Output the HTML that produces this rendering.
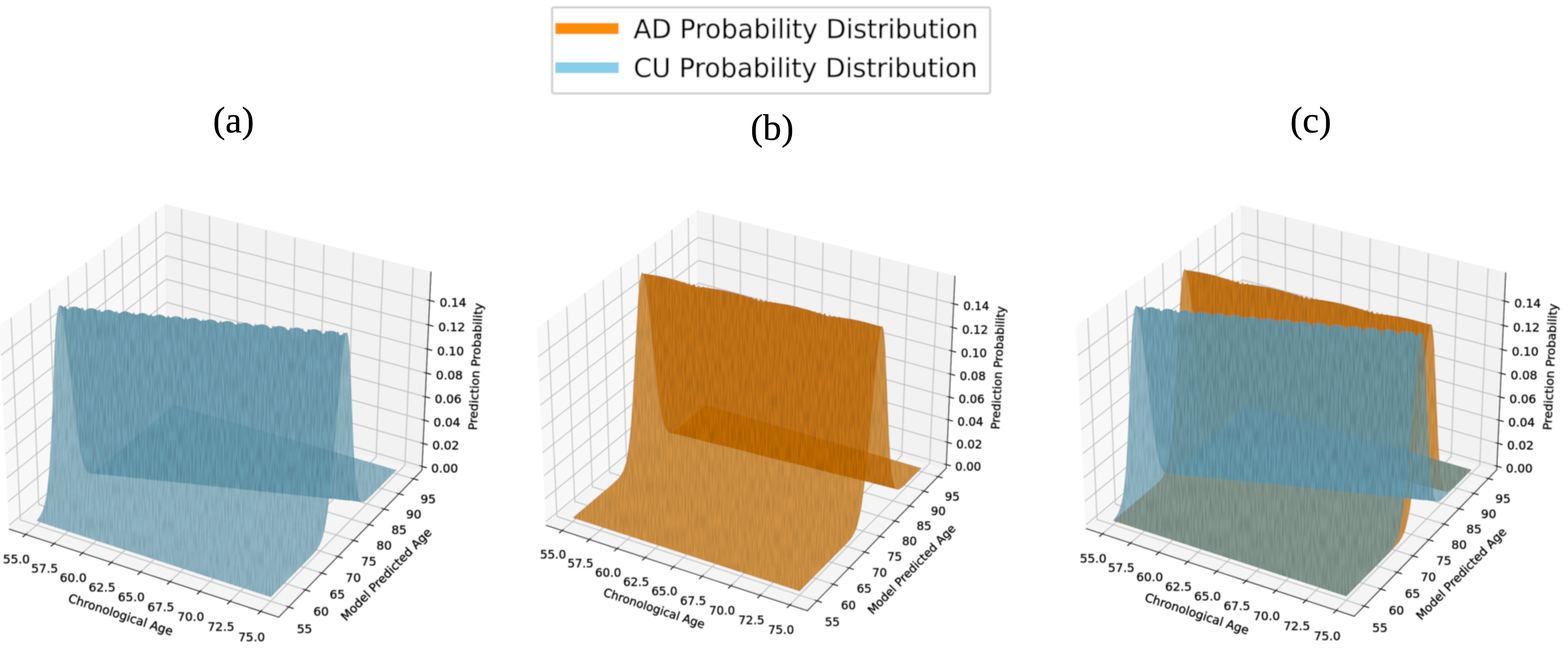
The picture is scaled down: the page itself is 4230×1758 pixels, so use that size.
<!DOCTYPE html>
<html lang="en"><head><meta charset="utf-8"><title>AD / CU probability distributions</title>
<style>html,body{margin:0;padding:0;background:#fff}body{width:4230px;height:1758px;overflow:hidden}svg{display:block}.t{font-family:'DejaVu Sans','Liberation Sans',sans-serif;font-size:9.75px;fill:#000;stroke:#000;stroke-width:0.2}.g{fill:none;stroke:#b4b4b4;stroke-width:.8;stroke-opacity:.85}.x{fill:none;stroke:#000;stroke-width:.8;stroke-linecap:square}.lg{font-family:'DejaVu Sans','Liberation Sans',sans-serif;font-size:70.4px;fill:#000;stroke:#000;stroke-width:0.66}.lb{font-family:'Liberation Serif','DejaVu Serif',serif;font-size:100px;fill:#000;stroke:#000;stroke-width:.6px;text-anchor:middle}</style></head><body>
<svg width="4230" height="1758" viewBox="0 0 4230 1758">
<rect width="4230" height="1758" fill="#fff"/>
<defs><filter id="bl" x="-3%" y="-3%" width="106%" height="106%"><feGaussianBlur stdDeviation="1.5"/></filter></defs>
<defs>
<path id="cu1" d="M226.1 346.2L235.3 349.4 251.9 354.9 415.8 407.9 446.2 377.2 451.5 371.5 453.7 368.7 455.8 364.9 456.9 362.1 458 358.7 459.1 354.1 460.3 348.2 461.5 340.7 464.1 319.9 466.8 291.1 472.7 223.7 474.1 210.3 475.4 200.4 476.6 195.1 477 194.4 477.7 193.9 475.7 194.3 474.6 193.7 474.1 195.1 473.2 195.8 472.4 196 471.9 195.9 471.1 195.2 470.5 193.2 469.7 193.7 469.2 193.8 467.4 192.9 465.5 192.5 463.5 192.5 461.6 193 461.2 192.9 460.3 192.3 459.5 194.6 458.6 195 457.7 194.6 455.1 192.5 453.2 191.6 451.2 191.1 449.2 191.3 447.3 191.8 446.9 191.6 446 190.9 445.2 193.1 444.4 193.5 443.5 193.1 440.8 191 439 190.2 437 189.8 434.9 190 433.1 190.5 432.7 190.4 431.8 189.5 431 191.5 430.1 192 429.2 191.6 426.6 189.6 424.7 188.8 422.7 188.5 420.7 188.7 419 189.3 418.5 189.1 417.6 188.1 416.8 190.1 415.9 190.5 415.1 190.1 412.4 188.2 410.5 187.4 408.5 187.2 406.5 187.4 404.8 188 404.3 187.9 403.4 186.7 402.6 188.6 401.8 189 400.9 188.6 398.3 186.8 396.2 186 394.2 185.9 392.4 186.2 390.9 186.8 390.1 186.5 389.2 185.4 388.5 187.1 387.6 187.5 386.8 187.2 384.2 185.4 382.1 184.7 380.1 184.6 378.3 185 376.8 185.6 376 185.3 375.1 184 374.4 185.6 373.5 186 372.7 185.7 370.1 184 368 183.3 366 183.3 364.2 183.7 362.8 184.3 361.9 184.1 361 182.7 360.3 184.2 359.5 184.5 358.6 184.3 356 182.6 353.9 182 352 182 350.2 182.5 348.8 183.1 347.9 182.9 347 181.3 346.2 182.8 345.4 183.1 344.6 182.8 343.8 182.2 342 181.2 340 180.7 337.9 180.7 336.2 181.3 334.8 181.9 334.3 181.9 333.6 181.3 333 180 332.2 181.3 331.4 181.6 331 181.6 328 179.8 325.9 179.3 324 179.5 320.9 180.7 320.4 180.7 319.6 180.1 319 178.7 318.2 180 317.2 180.2 314 178.4 311.9 178 310 178.2 307 179.6 306.5 179.5 305.7 178.9 305 177.4 304.2 178.6 303.3 178.8 301.9 177.9 300.1 177.1 298.2 176.7 295.1 177.2 293.6 178.2 292.6 178.3 291.8 177.7 291.1 176.1 290.3 177.2 289.4 177.3 288 176.5 286.2 175.7 284.3 175.4 281.1 175.8 280.8 176.3 279.8 177 279 177.2 278.2 176.8 277.2 174.8 276.4 175.8 275.5 175.9 274.1 175.1 272.3 174.4 270.4 174.2 268.6 174.5 267.2 174.4 266.6 175.4 265.6 176 265.2 176.1 264.4 175.7 263.4 173.5 262.5 174.4 261.7 174.5 260.2 173.7 258.5 173 256.6 172.9 254.9 173.2 253.4 173 252.8 174.2 251.8 174.9 251.4 174.9 250.6 174.5 249.6 172.3 248.6 173.1 248.1 173.2 246.4 172.3 244.6 171.7 243.4 174.6 242.4 181.9 241.5 193.2 240.8 207.6 238.3 274.2 236.8 301.1 235.9 311.5 235 319.9 234.1 326.6 233 331.8 231.9 335.8 230.8 338.9 229.6 341.4 228.4 343.3Z"/>
<path id="cu2" d="M244.6 171.7L245.9 173.8 247.4 180.1 249 190.2 250.6 203.2 257.5 261.6 260.6 283.6 262 291.6 263.4 297.6 264.7 301.9 266 304.9 267.2 306.5 268.3 307.4 269.5 307.8 271 307.7 273.3 308.1 278 308.7 281.4 308.9 282.6 309.1 284.1 309 286.4 309.5 291.1 310.1 294.5 310.2 296 310.5 297.2 310.4 302.4 311.3 307.7 311.6 309.1 311.9 310.3 311.8 315.6 312.6 320.9 313 322.3 313.3 323.5 313.2 328.8 314 334.1 314.4 335.3 314.7 336.7 314.6 342 315.4 347.3 315.7 348.5 316.1 349.9 316 355.3 316.8 360.6 317.1 361.8 317.5 363.1 317.5 368.5 318.2 373.9 318.5 375.3 318.9 376.4 318.9 381.9 319.6 387.3 319.9 388.7 320.3 389.7 320.3 395.2 321 400.6 321.3 402.1 321.7 403.1 321.7 408.6 322.4 414 322.7 415.5 323.1 416.5 323.1 420.2 323.6 423.9 324 427.4 324 428.9 324.5 433.6 325.1 437.4 325.4 440.9 325.4 442.3 326 451.7 326.9 453.8 326.9 455.8 327.4 465.2 328.4 467.1 328.3 469.3 328.8 478.7 329.8 480.4 329.7 482.9 330.2 489.5 330.9 488.4 330.1 487.7 329.1 486.8 326.5 485.9 322.8 485.1 317.5 484.4 310.2 483 289.7 480.1 217.4 479.4 205.8 478.6 197.7 477.7 193.9 475.6 194.4 472.9 196 472 196.2 471.2 195.7 470.5 193.2 469.7 193.7 469.2 193.8 467.4 192.9 465.5 192.5 463.5 192.5 461.6 193 461.2 192.9 460.3 192.3 459.7 194 458.7 194.7 458.3 194.7 457.5 194.4 456.7 193.6 456.2 191.9 455.2 192.4 453.1 191.5 451.1 191.1 449.2 191.3 447.3 191.8 446.9 191.6 446 190.9 445.3 192.9 445 193.2 444.2 193.4 443.4 193.1 442.4 192.1 442 190.6 440.9 191 438.8 190.1 437 189.8 434.9 190 433.1 190.5 432.7 190.4 431.8 189.5 431 191.5 430.1 192 429.2 191.6 428.1 190.5 427.7 189.4 426.7 189.6 424.6 188.8 422.7 188.5 420.7 188.7 419 189.3 418.5 189.1 417.6 188.1 416.8 190.1 415.9 190.5 415.5 190.4 414.2 189.3 413.9 189 413.5 188.1 412.2 188.1 410.4 187.4 408.5 187.2 406.5 187.4 404.8 188 404.3 187.9 403.4 186.7 402.6 188.6 401.8 189 400.9 188.6 400 187.9 399.4 186.9 398.1 186.7 396.2 186 394.2 185.9 392.4 186.2 390.9 186.8 390.1 186.5 389.2 185.4 388.5 187.1 387.6 187.5 386.8 187.2 385.5 186.1 385.2 185.6 382.1 184.7 380.1 184.6 378.3 185 376.8 185.6 376 185.3 375.1 184 374.4 185.6 373.5 186 372.7 185.7 371.1 184.3 368 183.3 366 183.3 364.2 183.7 362.8 184.3 361.9 184.1 361 182.7 360.3 184.2 359.5 184.5 358.6 184.3 356 182.6 353.9 182 352 182 350.2 182.5 348.8 183.1 347.9 182.9 347 181.3 346.2 182.8 345.4 183.1 344.6 182.8 343.8 182.2 341.9 181.2 340 180.7 337.9 180.7 336.2 181.3 334.8 181.9 334.3 181.9 333.6 181.3 333 180 332.2 181.3 331.4 181.6 331 181.6 328 179.8 325.9 179.3 324 179.5 320.9 180.7 320.4 180.7 319.6 180.1 319 178.7 318.2 180 317.2 180.2 314 178.4 311.9 178 310 178.2 307 179.6 306.5 179.5 305.7 178.9 305 177.4 304.2 178.6 303.3 178.8 301.9 177.9 300.1 177.1 298.2 176.7 296.1 177 293.1 178.4 292.6 178.3 291.8 177.7 291.1 176.1 290.3 177.2 289.4 177.3 288 176.5 286.2 175.7 284.3 175.4 282.2 175.7 279.4 177.2 279 177.2 278.2 176.8 277.2 174.8 276.4 175.8 275.5 175.9 274.1 175.1 272.3 174.4 270.4 174.2 268.4 174.5 265.6 176 265.2 176.1 264.4 175.7 263.4 173.5 262.5 174.4 261.7 174.5 260.2 173.7 258.5 173 256.6 172.9 254.6 173.3 251.8 174.9 251.4 174.9 250.6 174.5 249.6 172.3 248.6 173.1 248.1 173.2 246.4 172.3Z"/>
<path id="cu3" d="M270.8 307.6L277.9 308.7 281.4 308.9 282.6 309.1 284.1 309 291 310.1 294.5 310.2 296 310.5 297.2 310.4 304.2 311.5 307.7 311.6 309.1 311.9 310.3 311.8 315.6 312.6 320.9 313 322.3 313.3 323.5 313.2 326.9 313.8 330.6 314.2 334.1 314.4 335.3 314.7 336.7 314.6 343.8 315.6 347.3 315.7 348.5 316.1 349.9 316 357.1 317 360.6 317.1 361.8 317.5 363.1 317.5 368.5 318.2 373.9 318.5 375.3 318.9 376.4 318.9 381.9 319.6 387.3 319.9 388.7 320.3 389.7 320.3 393.3 320.8 398 321.3 400.8 321.3 402.1 321.7 403.1 321.7 406.7 322.2 411.4 322.7 414 322.7 415.5 323.1 416.5 323.1 420.1 323.7 424.8 324.1 427.2 324.1 428.9 324.5 438.3 325.5 440.5 325.5 442.3 326 447 326.5 451.7 326.9 453.1 326.7 460.5 327.9 465.2 328.4 466.6 328.2 474 329.3 478.7 329.8 480.1 329.6 485.6 330.5 490.4 331 491.4 330.6 492.5 330 495.4 327.5 517.6 305.1 337.4 252.5 277.6 303 273.1 306.4Z"/>
<path id="ad1" d="M226.2 346.6L415.8 407.9 451.5 371.8 456.8 366.3 458.9 363.7 461 360.5 463.1 355.7 464.2 352.3 466.5 342.5 467.7 335.6 470.2 316.7 473 290.7 480.3 212.4 481.6 200.5 482.9 191.9 484 187.2 476 184.7 465.9 182.1 457.9 180.5 450.1 179.4 448.8 178.7 448.2 179 447.8 179.1 446.3 178.9 445.5 178.5 444.8 177.6 444.4 178.3 444 178.5 442.5 178.5 441.8 178.2 440.8 176.6 440 178 439.6 178.2 438.6 178.2 437.8 177.9 436.8 175.7 435.9 176.9 434.9 177 423.9 173.3 412 170.1 404.2 168.5 396.5 167.2 395.4 166.8 394.5 167 392.9 166.8 392.2 166.4 391.4 165.7 390.6 166.4 389.2 166.4 388.3 165.8 387.5 164.7 386.9 165.8 386.5 166 385.4 166.1 384.6 165.7 383.6 163.8 382.7 165.1 381.9 165.4 381.5 165.3 368.9 161 357.4 157.9 349.7 156.3 340.5 154.9 339.1 154.1 338.4 154.5 336.9 154.5 336.1 154.1 335.3 153.1 334.8 153.9 334.4 154.1 333.2 154.1 332.7 154 332.3 153.6 331.5 152.1 330.5 153.6 330.2 153.8 329.3 153.8 328.5 153.2 327.7 151.3 326.7 152.4 325.7 152.4 317.1 149.5 307.7 146.8 298.3 144.7 289.2 143.3 287.8 142.7 286.9 143 285.7 142.8 285 142.5 284.1 141.7 283 144.7 281.9 151.6 281 162 279.4 190.2 276.2 251.3 274.5 274.4 272.6 290.6 271.6 296.4 270.6 301 269.5 304.6 268.5 307.3 267.3 309.5 266.2 311.4 263.9 314.2 258.1 319.5Z"/>
<path id="ad2" d="M285.3 142.8L286.6 147.9 288 156.5 289.4 167.7 295.2 222.3 298 245 299.3 253.7 300.6 260.7 301.8 266.1 303 270 304.2 272.6 305.4 274.4 306.6 275.3 316.9 277.7 318.3 278.2 319.4 278.3 321.9 279.1 322.9 279.3 344.4 284.8 365.9 289.9 367 290.4 368.3 290.5 370.9 291.4 371.9 291.5 374.5 292.3 395.6 297.6 415.8 302.4 416.8 302.8 418.4 303 420.8 303.8 421.8 303.9 424.5 304.8 447.9 310.6 470.5 316 471.5 316.5 472.7 316.6 475.6 317.5 476.5 317.6 497.4 323 496.4 322.3 495.5 321.2 494.7 319.3 493.9 316.3 493 311.7 492.3 305.7 491.6 297.9 490.3 276.8 487.5 208.5 486.8 197.9 486 190.4 485.1 186.7 484.2 187 483.7 186.9 483.1 186.4 481.8 186.4 469.9 183.1 459.9 180.9 449.8 179.3 438.6 178.2 437.8 177.9 436.8 175.7 435.9 176.9 434.9 177 433.5 176.3 432.9 174.9 431.9 175.6 431.1 175.6 429.4 175 428.9 174.2 427.8 174.5 427.4 174.4 424.8 173.5 412 170.1 406.2 168.8 398.3 167.5 392.5 166.7 385.4 166.1 384.6 165.7 383.6 163.8 382.7 165.1 381.9 165.4 381.5 165.3 380.6 164.8 379.7 162.9 378.8 163.9 377.8 163.9 376.3 163.2 375.8 162.2 374.7 162.7 374.2 162.7 372.7 162.1 372 161.6 370.7 161.5 361.2 158.8 353.6 157 342.1 155.1 336.4 154.4 329.6 153.9 328.8 153.5 327.7 151.3 326.7 152.4 325.7 152.4 324.5 151.9 323.9 150.5 322.9 151.2 322.1 151.2 320.4 150.5 320.1 149.8 318.6 150 311.4 147.8 303.9 145.9 294.6 144.1Z"/>
<path id="ad3" d="M307.8 275.5L311 276.4 313.4 276.9 314.5 277.3 316.6 277.6 318.3 278.2 319.4 278.3 342.5 284.3 362.3 289.1 363.3 289.5 365.9 289.9 367 290.4 368.3 290.5 395.6 297.6 413.1 301.9 415.8 302.4 416.8 302.8 418.1 302.9 447.9 310.6 466.7 315.1 467.7 315.5 470.5 316 471.5 316.5 472.7 316.6 497.4 323 498.5 322.9 499.4 322.6 502.3 320.5 517.6 305.1 337.5 252.5 313 272.9 309.8 275Z"/>
<mask id="ma" maskUnits="userSpaceOnUse" x="0" y="0" width="720" height="504"><rect width="720" height="504" fill="#fff"/><g fill="#000" fill-opacity="0.82">
<use href="#cu3"/>
<use href="#cu2"/>
<use href="#cu1"/>
</g></mask>
<mask id="mb" maskUnits="userSpaceOnUse" x="0" y="0" width="720" height="504"><rect width="720" height="504" fill="#fff"/><g fill="#000" fill-opacity="0.82">
<use href="#ad3"/>
<use href="#ad2"/>
<use href="#ad1"/>
</g></mask>
<mask id="mc" maskUnits="userSpaceOnUse" x="0" y="0" width="720" height="504"><rect width="720" height="504" fill="#fff"/><g fill="#000" fill-opacity="0.82">
<use href="#ad3"/>
<use href="#ad2"/>
<use href="#ad1"/>
<use href="#cu3"/>
<use href="#cu2"/>
<use href="#cu1"/>
</g></mask>
<filter id="tx" filterUnits="userSpaceOnUse" x="150" y="50" width="420" height="400" color-interpolation-filters="sRGB"><feTurbulence type="fractalNoise" baseFrequency="0.75 0.07" numOctaves="1" seed="5" result="n"/><feColorMatrix in="n" type="matrix" values="0 0 0 0 0 0 0 0 0 0 0 0 0 0 0 0.3 0 0 0 -0.1" result="a"/><feComposite in="a" in2="SourceAlpha" operator="in"/></filter>
</defs>
<g filter="url(#bl)"><g transform="matrix(3.3332 0 0 3.3332 -655.50 250.42)">
<path d="M204.26 352.87L332.42 245.45 330.64 90.52 196.35 188.52Z" fill="#f2f2f2" stroke="#f2f2f2" stroke-width="1" opacity="0.5"/>
<path d="M332.42 245.45L538.07 305.22 545.4 144.96 330.64 90.52Z" fill="#e6e6e6" stroke="#e6e6e6" stroke-width="1" opacity="0.5"/>
<path d="M204.26 352.87L422.26 424.07 538.07 305.22 332.42 245.45Z" fill="#ececec" stroke="#ececec" stroke-width="1" opacity="0.5"/>
<path class="g" mask="url(#ma)" d="M217.47 357.18L344.93 249.08 343.67 93.83M240.3 364.64L366.54 255.37 366.21 99.54M263.4 372.19L388.38 261.72 388.99 105.32M286.76 379.81L410.45 268.13 412.03 111.15M310.39 387.53L432.76 274.61 435.31 117.06M334.29 395.34L455.3 281.16 458.86 123.02M358.47 403.24L478.08 287.79 482.66 129.06M382.93 411.23L501.1 294.48 506.73 135.16M407.68 419.31L524.37 301.24 531.08 141.33M205.63 181.75L213.09 345.47 430.27 415.85M221.3 170.31L228 332.97 443.79 401.97M236.66 159.11L242.63 320.71 457.04 388.38M251.72 148.12L256.98 308.68 470.02 375.05M266.48 137.34L271.07 296.87 482.76 361.98M280.96 126.78L284.9 285.28 495.24 349.17M295.17 116.41L298.47 273.9 507.49 336.6M309.1 106.24L311.8 262.73 519.5 324.27M322.78 96.26L324.89 251.76 531.29 312.17M538.21 302.15L332.39 242.47 204.11 349.73M539.06 283.57L332.18 224.48 203.2 330.7M539.92 264.8L331.97 206.31 202.27 311.47M540.79 245.83L331.76 187.95 201.33 292.03M541.66 226.65L331.55 169.42 200.39 272.37M542.55 207.28L331.33 150.69 199.43 252.5M543.45 187.7L331.11 131.78 198.46 232.41M544.35 167.91L330.89 112.67 197.48 212.09"/>
<path class="x" d="M204.26 352.87L422.26 424.07M538.07 305.22L422.26 424.07M538.07 305.22L545.4 144.96M218.58 356.24L215.24 359.07M241.4 363.69L238.1 366.55M264.49 371.22L261.21 374.12M287.84 378.84L284.6 381.77M311.45 386.55L308.25 389.51M335.34 394.34L332.17 397.34M359.51 402.23L356.38 405.26M383.96 410.21L380.86 413.27M408.7 418.28L405.64 421.38M428.44 415.25L433.94 417.03M441.97 401.39L447.43 403.14M455.23 387.81L460.65 389.52M468.23 374.49L473.61 376.17M480.97 361.44L486.32 363.08M493.47 348.63L498.78 350.24M505.73 336.07L511 337.66M517.76 323.75L523 325.31M529.56 311.67L534.76 313.19M536.48 301.65L541.66 303.15M537.32 283.07L542.53 284.56M538.17 264.31L543.41 265.78M539.03 245.34L544.3 246.8M539.9 226.17L545.2 227.62M540.78 206.8L546.1 208.23M541.66 187.23L547.02 188.64M542.56 167.44L547.95 168.84"/>
<text class="t" text-anchor="middle" x="209.95" y="380.47">55.0</text>
<text class="t" text-anchor="middle" x="232.8" y="388.04">57.5</text>
<text class="t" text-anchor="middle" x="255.91" y="395.69">60.0</text>
<text class="t" text-anchor="middle" x="279.29" y="403.43">62.5</text>
<text class="t" text-anchor="middle" x="302.93" y="411.26">65.0</text>
<text class="t" text-anchor="middle" x="326.86" y="419.18">67.5</text>
<text class="t" text-anchor="middle" x="351.06" y="427.2">70.0</text>
<text class="t" text-anchor="middle" x="375.54" y="435.3">72.5</text>
<text class="t" text-anchor="middle" x="400.32" y="443.51">75.0</text>
<text class="t" text-anchor="middle" x="293.28" y="425.34" transform="rotate(-341.9 293.28 425.34)">Chronological Age</text>
<text class="t" text-anchor="middle" x="443.15" y="436.86">55</text>
<text class="t" text-anchor="middle" x="456.54" y="422.85">60</text>
<text class="t" text-anchor="middle" x="469.67" y="409.12">65</text>
<text class="t" text-anchor="middle" x="482.54" y="395.66">70</text>
<text class="t" text-anchor="middle" x="495.15" y="382.46">75</text>
<text class="t" text-anchor="middle" x="507.52" y="369.51">80</text>
<text class="t" text-anchor="middle" x="519.66" y="356.82">85</text>
<text class="t" text-anchor="middle" x="531.56" y="344.36">90</text>
<text class="t" text-anchor="middle" x="543.24" y="332.14">95</text>
<text class="t" text-anchor="middle" x="511.69" y="391.91" transform="rotate(-45.7 511.69 391.91)">Model Predicted Age</text>
<text class="t" text-anchor="middle" x="556.49" y="307.15">0.00</text>
<text class="t" text-anchor="middle" x="557.43" y="288.59">0.02</text>
<text class="t" text-anchor="middle" x="558.38" y="269.84">0.04</text>
<text class="t" text-anchor="middle" x="559.35" y="250.9">0.06</text>
<text class="t" text-anchor="middle" x="560.32" y="231.75">0.08</text>
<text class="t" text-anchor="middle" x="561.31" y="212.41">0.10</text>
<text class="t" text-anchor="middle" x="562.3" y="192.85">0.12</text>
<text class="t" text-anchor="middle" x="563.31" y="173.09">0.14</text>
<text class="t" text-anchor="middle" x="584.87" y="221.55" transform="rotate(-87.4 584.87 221.55)">Prediction Probability</text>
<g fill="#649aaf" fill-opacity="0.7">
<use href="#cu3"/>
<use href="#cu2"/>
<use href="#cu1"/>
</g>
</g></g>
<g filter="url(#bl)"><g transform="matrix(3.2307 0 0 3.2307 813.90 276.47)">
<path d="M204.26 352.87L332.42 245.45 330.64 90.52 196.35 188.52Z" fill="#f2f2f2" stroke="#f2f2f2" stroke-width="1" opacity="0.5"/>
<path d="M332.42 245.45L538.07 305.22 545.4 144.96 330.64 90.52Z" fill="#e6e6e6" stroke="#e6e6e6" stroke-width="1" opacity="0.5"/>
<path d="M204.26 352.87L422.26 424.07 538.07 305.22 332.42 245.45Z" fill="#ececec" stroke="#ececec" stroke-width="1" opacity="0.5"/>
<path class="g" mask="url(#mb)" d="M217.47 357.18L344.93 249.08 343.67 93.83M240.3 364.64L366.54 255.37 366.21 99.54M263.4 372.19L388.38 261.72 388.99 105.32M286.76 379.81L410.45 268.13 412.03 111.15M310.39 387.53L432.76 274.61 435.31 117.06M334.29 395.34L455.3 281.16 458.86 123.02M358.47 403.24L478.08 287.79 482.66 129.06M382.93 411.23L501.1 294.48 506.73 135.16M407.68 419.31L524.37 301.24 531.08 141.33M205.63 181.75L213.09 345.47 430.27 415.85M221.3 170.31L228 332.97 443.79 401.97M236.66 159.11L242.63 320.71 457.04 388.38M251.72 148.12L256.98 308.68 470.02 375.05M266.48 137.34L271.07 296.87 482.76 361.98M280.96 126.78L284.9 285.28 495.24 349.17M295.17 116.41L298.47 273.9 507.49 336.6M309.1 106.24L311.8 262.73 519.5 324.27M322.78 96.26L324.89 251.76 531.29 312.17M538.21 302.15L332.39 242.47 204.11 349.73M539.06 283.57L332.18 224.48 203.2 330.7M539.92 264.8L331.97 206.31 202.27 311.47M540.79 245.83L331.76 187.95 201.33 292.03M541.66 226.65L331.55 169.42 200.39 272.37M542.55 207.28L331.33 150.69 199.43 252.5M543.45 187.7L331.11 131.78 198.46 232.41M544.35 167.91L330.89 112.67 197.48 212.09"/>
<path class="x" d="M204.26 352.87L422.26 424.07M538.07 305.22L422.26 424.07M538.07 305.22L545.4 144.96M218.58 356.24L215.24 359.07M241.4 363.69L238.1 366.55M264.49 371.22L261.21 374.12M287.84 378.84L284.6 381.77M311.45 386.55L308.25 389.51M335.34 394.34L332.17 397.34M359.51 402.23L356.38 405.26M383.96 410.21L380.86 413.27M408.7 418.28L405.64 421.38M428.44 415.25L433.94 417.03M441.97 401.39L447.43 403.14M455.23 387.81L460.65 389.52M468.23 374.49L473.61 376.17M480.97 361.44L486.32 363.08M493.47 348.63L498.78 350.24M505.73 336.07L511 337.66M517.76 323.75L523 325.31M529.56 311.67L534.76 313.19M536.48 301.65L541.66 303.15M537.32 283.07L542.53 284.56M538.17 264.31L543.41 265.78M539.03 245.34L544.3 246.8M539.9 226.17L545.2 227.62M540.78 206.8L546.1 208.23M541.66 187.23L547.02 188.64M542.56 167.44L547.95 168.84"/>
<text class="t" text-anchor="middle" x="209.95" y="380.47">55.0</text>
<text class="t" text-anchor="middle" x="232.8" y="388.04">57.5</text>
<text class="t" text-anchor="middle" x="255.91" y="395.69">60.0</text>
<text class="t" text-anchor="middle" x="279.29" y="403.43">62.5</text>
<text class="t" text-anchor="middle" x="302.93" y="411.26">65.0</text>
<text class="t" text-anchor="middle" x="326.86" y="419.18">67.5</text>
<text class="t" text-anchor="middle" x="351.06" y="427.2">70.0</text>
<text class="t" text-anchor="middle" x="375.54" y="435.3">72.5</text>
<text class="t" text-anchor="middle" x="400.32" y="443.51">75.0</text>
<text class="t" text-anchor="middle" x="293.28" y="425.34" transform="rotate(-341.9 293.28 425.34)">Chronological Age</text>
<text class="t" text-anchor="middle" x="443.15" y="436.86">55</text>
<text class="t" text-anchor="middle" x="456.54" y="422.85">60</text>
<text class="t" text-anchor="middle" x="469.67" y="409.12">65</text>
<text class="t" text-anchor="middle" x="482.54" y="395.66">70</text>
<text class="t" text-anchor="middle" x="495.15" y="382.46">75</text>
<text class="t" text-anchor="middle" x="507.52" y="369.51">80</text>
<text class="t" text-anchor="middle" x="519.66" y="356.82">85</text>
<text class="t" text-anchor="middle" x="531.56" y="344.36">90</text>
<text class="t" text-anchor="middle" x="543.24" y="332.14">95</text>
<text class="t" text-anchor="middle" x="511.69" y="391.91" transform="rotate(-45.7 511.69 391.91)">Model Predicted Age</text>
<text class="t" text-anchor="middle" x="556.49" y="307.15">0.00</text>
<text class="t" text-anchor="middle" x="557.43" y="288.59">0.02</text>
<text class="t" text-anchor="middle" x="558.38" y="269.84">0.04</text>
<text class="t" text-anchor="middle" x="559.35" y="250.9">0.06</text>
<text class="t" text-anchor="middle" x="560.32" y="231.75">0.08</text>
<text class="t" text-anchor="middle" x="561.31" y="212.41">0.10</text>
<text class="t" text-anchor="middle" x="562.3" y="192.85">0.12</text>
<text class="t" text-anchor="middle" x="563.31" y="173.09">0.14</text>
<text class="t" text-anchor="middle" x="584.87" y="221.55" transform="rotate(-87.4 584.87 221.55)">Prediction Probability</text>
<g fill="#c16b00" fill-opacity="0.72">
<use href="#ad3"/>
<use href="#ad2"/>
<use href="#ad1"/>
</g>
</g></g>
<g filter="url(#bl)"><g transform="matrix(3.3169 0 0 3.3169 2252.76 254.78)">
<path d="M204.26 352.87L332.42 245.45 330.64 90.52 196.35 188.52Z" fill="#f2f2f2" stroke="#f2f2f2" stroke-width="1" opacity="0.5"/>
<path d="M332.42 245.45L538.07 305.22 545.4 144.96 330.64 90.52Z" fill="#e6e6e6" stroke="#e6e6e6" stroke-width="1" opacity="0.5"/>
<path d="M204.26 352.87L422.26 424.07 538.07 305.22 332.42 245.45Z" fill="#ececec" stroke="#ececec" stroke-width="1" opacity="0.5"/>
<path class="g" mask="url(#mc)" d="M217.47 357.18L344.93 249.08 343.67 93.83M240.3 364.64L366.54 255.37 366.21 99.54M263.4 372.19L388.38 261.72 388.99 105.32M286.76 379.81L410.45 268.13 412.03 111.15M310.39 387.53L432.76 274.61 435.31 117.06M334.29 395.34L455.3 281.16 458.86 123.02M358.47 403.24L478.08 287.79 482.66 129.06M382.93 411.23L501.1 294.48 506.73 135.16M407.68 419.31L524.37 301.24 531.08 141.33M205.63 181.75L213.09 345.47 430.27 415.85M221.3 170.31L228 332.97 443.79 401.97M236.66 159.11L242.63 320.71 457.04 388.38M251.72 148.12L256.98 308.68 470.02 375.05M266.48 137.34L271.07 296.87 482.76 361.98M280.96 126.78L284.9 285.28 495.24 349.17M295.17 116.41L298.47 273.9 507.49 336.6M309.1 106.24L311.8 262.73 519.5 324.27M322.78 96.26L324.89 251.76 531.29 312.17M538.21 302.15L332.39 242.47 204.11 349.73M539.06 283.57L332.18 224.48 203.2 330.7M539.92 264.8L331.97 206.31 202.27 311.47M540.79 245.83L331.76 187.95 201.33 292.03M541.66 226.65L331.55 169.42 200.39 272.37M542.55 207.28L331.33 150.69 199.43 252.5M543.45 187.7L331.11 131.78 198.46 232.41M544.35 167.91L330.89 112.67 197.48 212.09"/>
<path class="x" d="M204.26 352.87L422.26 424.07M538.07 305.22L422.26 424.07M538.07 305.22L545.4 144.96M218.58 356.24L215.24 359.07M241.4 363.69L238.1 366.55M264.49 371.22L261.21 374.12M287.84 378.84L284.6 381.77M311.45 386.55L308.25 389.51M335.34 394.34L332.17 397.34M359.51 402.23L356.38 405.26M383.96 410.21L380.86 413.27M408.7 418.28L405.64 421.38M428.44 415.25L433.94 417.03M441.97 401.39L447.43 403.14M455.23 387.81L460.65 389.52M468.23 374.49L473.61 376.17M480.97 361.44L486.32 363.08M493.47 348.63L498.78 350.24M505.73 336.07L511 337.66M517.76 323.75L523 325.31M529.56 311.67L534.76 313.19M536.48 301.65L541.66 303.15M537.32 283.07L542.53 284.56M538.17 264.31L543.41 265.78M539.03 245.34L544.3 246.8M539.9 226.17L545.2 227.62M540.78 206.8L546.1 208.23M541.66 187.23L547.02 188.64M542.56 167.44L547.95 168.84"/>
<text class="t" text-anchor="middle" x="209.95" y="380.47">55.0</text>
<text class="t" text-anchor="middle" x="232.8" y="388.04">57.5</text>
<text class="t" text-anchor="middle" x="255.91" y="395.69">60.0</text>
<text class="t" text-anchor="middle" x="279.29" y="403.43">62.5</text>
<text class="t" text-anchor="middle" x="302.93" y="411.26">65.0</text>
<text class="t" text-anchor="middle" x="326.86" y="419.18">67.5</text>
<text class="t" text-anchor="middle" x="351.06" y="427.2">70.0</text>
<text class="t" text-anchor="middle" x="375.54" y="435.3">72.5</text>
<text class="t" text-anchor="middle" x="400.32" y="443.51">75.0</text>
<text class="t" text-anchor="middle" x="293.28" y="425.34" transform="rotate(-341.9 293.28 425.34)">Chronological Age</text>
<text class="t" text-anchor="middle" x="443.15" y="436.86">55</text>
<text class="t" text-anchor="middle" x="456.54" y="422.85">60</text>
<text class="t" text-anchor="middle" x="469.67" y="409.12">65</text>
<text class="t" text-anchor="middle" x="482.54" y="395.66">70</text>
<text class="t" text-anchor="middle" x="495.15" y="382.46">75</text>
<text class="t" text-anchor="middle" x="507.52" y="369.51">80</text>
<text class="t" text-anchor="middle" x="519.66" y="356.82">85</text>
<text class="t" text-anchor="middle" x="531.56" y="344.36">90</text>
<text class="t" text-anchor="middle" x="543.24" y="332.14">95</text>
<text class="t" text-anchor="middle" x="511.69" y="391.91" transform="rotate(-45.7 511.69 391.91)">Model Predicted Age</text>
<text class="t" text-anchor="middle" x="556.49" y="307.15">0.00</text>
<text class="t" text-anchor="middle" x="557.43" y="288.59">0.02</text>
<text class="t" text-anchor="middle" x="558.38" y="269.84">0.04</text>
<text class="t" text-anchor="middle" x="559.35" y="250.9">0.06</text>
<text class="t" text-anchor="middle" x="560.32" y="231.75">0.08</text>
<text class="t" text-anchor="middle" x="561.31" y="212.41">0.10</text>
<text class="t" text-anchor="middle" x="562.3" y="192.85">0.12</text>
<text class="t" text-anchor="middle" x="563.31" y="173.09">0.14</text>
<text class="t" text-anchor="middle" x="584.87" y="221.55" transform="rotate(-87.4 584.87 221.55)">Prediction Probability</text>
<g fill="#c16b00" fill-opacity="0.72">
<use href="#ad3"/>
<use href="#ad2"/>
<use href="#ad1"/>
</g>
<g fill="#649aaf" fill-opacity="0.7">
<use href="#cu3"/>
<use href="#cu2"/>
<use href="#cu1"/>
</g>
</g></g>
<g filter="url(#bl)">
<rect x="1489.5" y="20" width="1181.5" height="232" rx="5" fill="#fff" stroke="#d2d2d2" stroke-width="6"/>
<rect x="1498" y="62" width="171" height="30" fill="#ff8c00"/>
<rect x="1498" y="168" width="171" height="29" fill="#87ceeb"/>
<text class="lg" x="1709" y="103">AD Probability Distribution</text>
<text class="lg" x="1709" y="208">CU Probability Distribution</text>
</g>
<g transform="matrix(3.3332 0 0 3.3332 -655.50 250.42)"><g filter="url(#tx)" fill="#000" fill-opacity="0.7">
<use href="#cu3"/>
<use href="#cu2"/>
<use href="#cu1"/>
</g></g>
<g transform="matrix(3.2307 0 0 3.2307 813.90 276.47)"><g filter="url(#tx)" fill="#000" fill-opacity="0.7">
<use href="#ad3"/>
<use href="#ad2"/>
<use href="#ad1"/>
</g></g>
<g transform="matrix(3.3169 0 0 3.3169 2252.76 254.78)"><g filter="url(#tx)" fill="#000" fill-opacity="0.7">
<use href="#ad3"/>
<use href="#ad2"/>
<use href="#ad1"/>
<use href="#cu3"/>
<use href="#cu2"/>
<use href="#cu1"/>
</g></g>
<text class="lb" x="630" y="357">(a)</text>
<text class="lb" x="2083" y="377">(b)</text>
<text class="lb" x="3536" y="357">(c)</text>
</svg></body></html>
